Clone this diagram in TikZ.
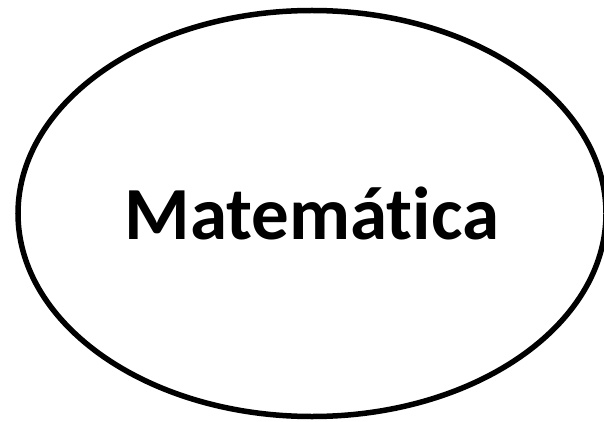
\documentclass[tikz,border=0pt]{standalone}
\usepackage{fontspec}
\setmainfont{Carlito}[Ligatures=NoCommon]
\usepackage{tikz}
\usetikzlibrary{shapes.geometric}

\begin{document}
\begin{tikzpicture}[x=1pt, y=-1pt, every node/.style={ellipse, draw, line width=5.5pt, minimum width=588pt, minimum height=406pt, inner sep=0pt, align=center, font=\fontsize{75}{90}\selectfont\bfseries}]
        \useasboundingbox (0,0) rectangle (604,422);

        % subject bubble
        \node (mat) at (312,213.5) {Matemática};
    \end{tikzpicture}
\end{document}
